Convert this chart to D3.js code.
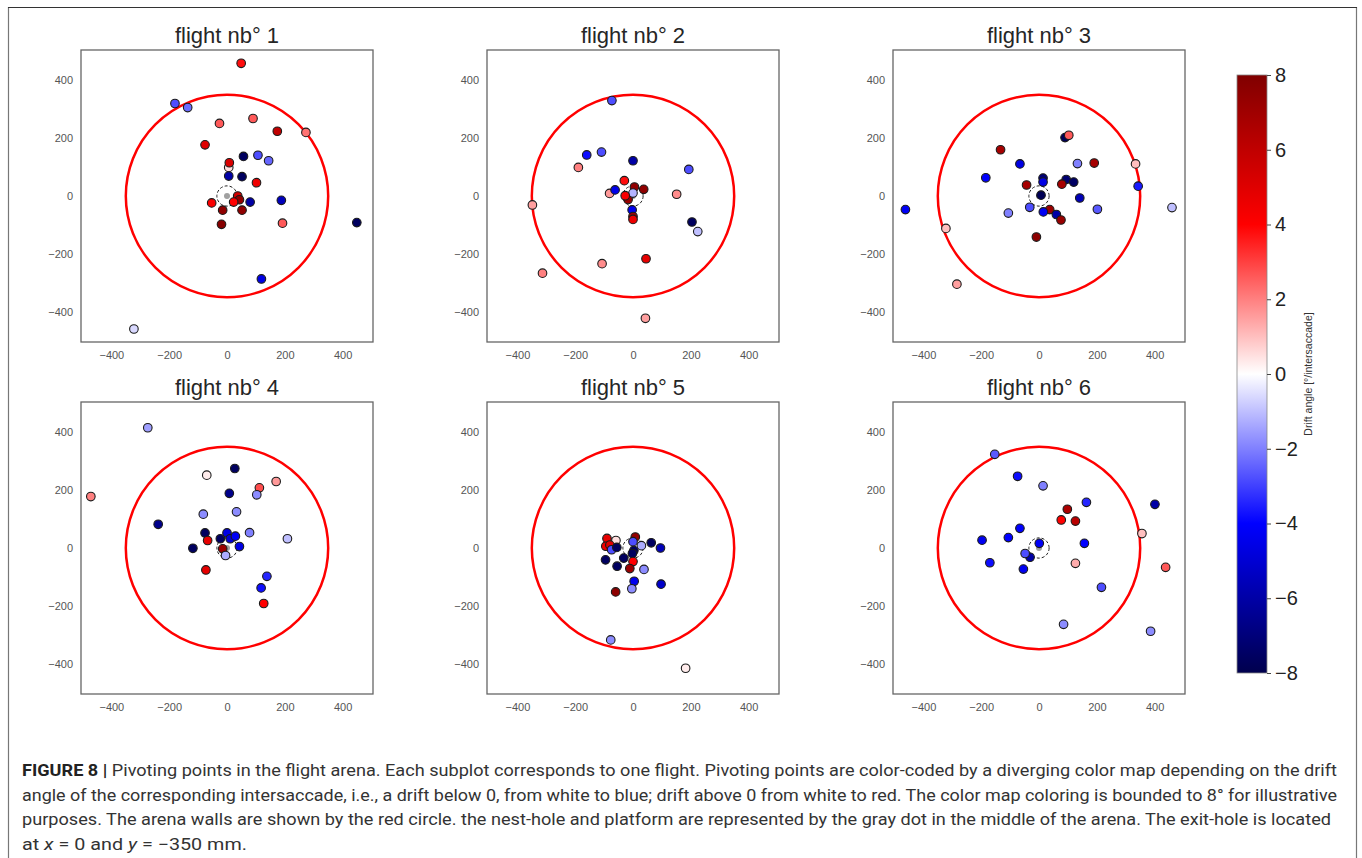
<!DOCTYPE html>
<html>
<head>
<meta charset="utf-8">
<script src="https://cdn.jsdelivr.net/npm/d3@7"></script>
<style>
  body { margin: 0; background: #fff; }
  svg { display: block; }
</style>
</head>
<body>
<div id="chart"></div>
<script>
// --- data (x mm, y mm, drift angle °/intersaccade) ---
const flightTitles = ['flight nb° 1', 'flight nb° 2', 'flight nb° 3', 'flight nb° 4', 'flight nb° 5', 'flight nb° 6'];
const axisTicks = [-400, -200, 0, 200, 400];
const colorTicks = [-8, -6, -4, -2, 0, 2, 4, 6, 8];
const arenaRadius = 350;
const nestRadius = 35;

const flight1 = [
  [49, 459, 3.8], [-180, 320, -2.8], [-136, 306, -2.3], [-26, 251, 2.6], [90, 268, 2.6],
  [174, 224, 6.0], [273, 220, 2.2], [-76, 177, 5.0], [57, 137, -7.6], [107, 141, -2.8],
  [144, 122, -2.4], [6, 99, 0.5], [8, 115, 5.2], [6, 69, -6.0], [52, 67, -7.6],
  [102, 46, 4.5], [37, 0, 5.5], [43, -13, 7.4], [23, -21, 4.0], [-53, -24, 4.2],
  [80, -21, -6.0], [188, -15, -5.5], [-15, -49, 7.5], [52, -49, 7.5], [-19, -98, 7.8],
  [192, -94, 2.6], [449, -92, -7.6], [119, -287, -4.6], [-322, -460, -0.6]
];
const flight2 = [
  [-73, 330, -2.8], [-160, 142, -3.8], [-109, 152, -2.8], [-189, 99, 2.0], [0, 122, -6.0],
  [193, 92, -2.8], [-30, 53, 3.8], [-81, 9, 1.6], [-62, 21, -4.5], [5, 31, 7.5],
  [37, 23, 7.5], [-17, -12, 7.2], [0, 10, -1.2], [-27, 1, 4.2], [151, 6, 1.8],
  [-348, -31, 1.5], [-3, -48, -4.4], [0, -71, 7.2], [0, -81, 4.6], [204, -90, -7.6],
  [224, -123, -1.0], [45, -217, 4.8], [-107, -234, 1.8], [-313, -267, 2.0], [43, -423, 1.5]
];
const flight3 = [
  [90, 202, -7.8], [103, 210, 2.6], [-133, 160, 6.8], [-66, 111, -4.6], [133, 112, -2.0],
  [191, 114, 6.8], [334, 111, 1.0], [-184, 63, -4.0], [14, 62, -7.2], [14, 48, -4.6],
  [-43, 38, 6.8], [94, 57, -7.2], [79, 41, 6.8], [120, 48, -7.5], [343, 34, -3.6],
  [7, 3, -7.8], [141, -7, -5.6], [-462, -47, -4.2], [-106, -59, -2.0], [-32, -39, -2.8],
  [37, -47, 7.2], [15, -55, -4.3], [60, -64, -6.0], [76, -83, 7.2], [202, -46, -2.6],
  [460, -40, -1.0], [-322, -112, 1.0], [-9, -142, 7.6], [-284, -305, 1.5]
];
const flight4 = [
  [-274, 416, -1.5], [-471, 178, 2.0], [27, 275, -7.6], [-70, 252, 0.3], [170, 230, 1.6],
  [112, 208, 2.8], [103, 184, -1.8], [8, 189, -6.6], [-82, 117, -1.8], [33, 125, -1.8],
  [-238, 82, -6.6], [-76, 52, -7.6], [78, 53, -2.0], [209, 32, -1.0], [-67, 26, 4.8],
  [-23, 32, -7.6], [0, 52, -4.6], [11, 32, -5.0], [29, 41, -4.2], [43, 5, -4.6],
  [-118, -1, -7.6], [-15, -3, 7.2], [-5, -26, -1.3], [-73, -76, 4.8], [138, -98, -3.4],
  [118, -138, -3.8], [127, -192, 4.0]
];
const flight5 = [
  [-90, 33, 4.8], [-59, 26, 0.5], [8, 38, 7.4], [0, 22, -2.8], [-94, 6, 4.5],
  [-80, 10, 5.0], [-74, -6, -2.8], [-56, 2, -7.6], [29, 8, -1.3], [63, 18, -7.6],
  [95, 0, -5.6], [3, -9, -7.6], [-2, -19, -7.6], [-95, -41, -7.6], [-32, -35, -7.6],
  [-55, -63, -7.6], [0, -47, 4.0], [-11, -71, 7.2], [38, -74, -1.8], [4, -115, -4.4],
  [-4, -141, -1.8], [97, -125, -5.2], [-60, -152, 7.6], [-77, -318, -1.8], [182, -416, 0.3]
];
const flight6 = [
  [-153, 324, -2.6], [-74, 248, -3.8], [14, 215, -2.0], [164, 158, -3.4], [401, 151, -6.0],
  [98, 134, 6.6], [77, 97, 4.0], [126, 93, 6.2], [-66, 68, -4.0], [-106, 36, -4.0],
  [-197, 27, -4.3], [356, 50, 1.0], [1, 16, -4.2], [157, 16, -4.0], [-31, -32, -6.0],
  [-48, -19, -2.8], [-170, -51, -3.8], [-54, -73, -4.3], [126, -53, 1.3], [438, -67, 2.6],
  [216, -136, -2.8], [85, -264, -1.8], [386, -288, -1.8]
];
const flights = [flight1, flight2, flight3, flight4, flight5, flight6];

const captionLines = [
  'Pivoting points in the flight arena. Each subplot corresponds to one flight. Pivoting points are color-coded by a diverging color map depending on the drift',
  'angle of the corresponding intersaccade, i.e., a drift below 0, from white to blue; drift above 0 from white to red. The color map coloring is bounded to 8° for illustrative',
  'purposes. The arena walls are shown by the red circle. the nest-hole and platform are represented by the gray dot in the middle of the arena. The exit-hole is located'
];

// --- layout ---
const width = 1362;
const height = 858;
const panelSize = 292;
const colX = [81, 487, 893];
const rowY = [50, 402];
const extent = 505;

const svg = d3.select('#chart').append('svg')
  .attr('width', width)
  .attr('height', height);

svg.append('rect').attr('width', width).attr('height', height).attr('fill', '#fff');

// figure frame
svg.append('path')
  .attr('d', `M8.5,${height} V7.5 H1356.5 V${height}`)
  .attr('fill', 'none')
  .attr('stroke', '#777')
  .attr('stroke-width', 1.2);
svg.append('line')
  .attr('x1', 8).attr('x2', 1357).attr('y1', 7.5).attr('y2', 7.5)
  .attr('stroke', '#333').attr('stroke-width', 1.2);

// seismic colormap
const color = d3.scaleLinear()
  .domain([-8, -4, 0, 4, 8])
  .range(['#00004d', '#0000ff', '#ffffff', '#ff0000', '#800000'])
  .clamp(true);

const tickFont = '"Liberation Sans", Arial, sans-serif';

flights.forEach((points, i) => {
  const g = svg.append('g')
    .attr('transform', `translate(${colX[i % 3]}, ${rowY[Math.floor(i / 3)]})`);

  const x = d3.scaleLinear().domain([-extent, extent]).range([0, panelSize]);
  const y = d3.scaleLinear().domain([-extent, extent]).range([panelSize, 0]);

  g.append('rect')
    .attr('width', panelSize)
    .attr('height', panelSize)
    .attr('fill', '#fff');

  const gx = g.append('g')
    .attr('transform', `translate(0, ${panelSize})`)
    .call(d3.axisBottom(x).tickValues(axisTicks).tickSize(0).tickPadding(9));
  const gy = g.append('g')
    .call(d3.axisLeft(y).tickValues(axisTicks).tickSize(0).tickPadding(8));
  [gx, gy].forEach(a => {
    a.select('.domain').remove();
    a.selectAll('text')
      .attr('font-family', tickFont)
      .attr('font-size', 11)
      .attr('fill', '#555');
  });

  // arena wall
  g.append('circle')
    .attr('cx', x(0)).attr('cy', y(0))
    .attr('r', x(arenaRadius) - x(0))
    .attr('fill', 'none')
    .attr('stroke', '#ff0000')
    .attr('stroke-width', 2.5);

  // nest-hole
  g.append('circle')
    .attr('cx', x(0)).attr('cy', y(0))
    .attr('r', x(nestRadius) - x(0))
    .attr('fill', 'none')
    .attr('stroke', '#222')
    .attr('stroke-width', 1)
    .attr('stroke-dasharray', '3,2');
  g.append('circle')
    .attr('cx', x(0)).attr('cy', y(0))
    .attr('r', 3)
    .attr('fill', '#a0a0a0');

  g.append('g').selectAll('circle')
    .data(points)
    .enter()
    .append('circle')
    .attr('cx', d => x(d[0]))
    .attr('cy', d => y(d[1]))
    .attr('r', 4.3)
    .attr('fill', d => color(d[2]))
    .attr('stroke', '#1a1a1a')
    .attr('stroke-width', 1.1);

  g.append('rect')
    .attr('width', panelSize)
    .attr('height', panelSize)
    .attr('fill', 'none')
    .attr('stroke', '#666')
    .attr('stroke-width', 1.3);

  g.append('text')
    .attr('x', panelSize / 2)
    .attr('y', -7)
    .attr('text-anchor', 'middle')
    .attr('font-family', tickFont)
    .attr('font-size', 22)
    .attr('fill', '#262626')
    .text(flightTitles[i]);
});

// colorbar
const cbX = 1237, cbY = 75, cbW = 30, cbH = 598;
const cbScale = d3.scaleLinear().domain([-8, 8]).range([cbY + cbH, cbY]);

const grad = svg.append('defs').append('linearGradient')
  .attr('id', 'seismic')
  .attr('x1', 0).attr('y1', 1).attr('x2', 0).attr('y2', 0);
grad.selectAll('stop')
  .data(d3.range(-8, 8.01, 0.5))
  .enter()
  .append('stop')
  .attr('offset', d => (d + 8) / 16)
  .attr('stop-color', d => color(d));

svg.append('rect')
  .attr('x', cbX).attr('y', cbY)
  .attr('width', cbW).attr('height', cbH)
  .attr('fill', 'url(#seismic)')
  .attr('stroke', '#888')
  .attr('stroke-width', 0.8);

const gcb = svg.append('g')
  .attr('transform', `translate(${cbX + cbW}, 0)`)
  .call(d3.axisRight(cbScale).tickValues(colorTicks).tickSize(4).tickPadding(4));
gcb.select('.domain').remove();
gcb.selectAll('line').attr('stroke', '#444');
gcb.selectAll('text')
  .attr('font-family', tickFont)
  .attr('font-size', 20)
  .attr('fill', '#222');

svg.append('text')
  .attr('transform', `translate(1312, ${cbY + cbH / 2}) rotate(-90)`)
  .attr('text-anchor', 'middle')
  .attr('font-family', tickFont)
  .attr('font-size', 10.5)
  .attr('fill', '#333')
  .text('Drift angle [°/intersaccade]');

// caption
const capFont = 'Roboto, "Liberation Sans", sans-serif';
const capX = 22;
const capBase = [776, 801, 825, 850];
const capRight = [1337, 1337, 1331];

captionLines.forEach((line, i) => {
  const t = svg.append('text')
    .attr('x', capX)
    .attr('y', capBase[i])
    .attr('font-family', capFont)
    .attr('font-size', 16.5)
    .attr('fill', '#333')
    .attr('textLength', capRight[i] - capX)
    .attr('lengthAdjust', 'spacingAndGlyphs');
  if (i === 0) {
    t.append('tspan').attr('font-weight', 'bold').attr('fill', '#222').text('FIGURE 8 | ');
  }
  t.append('tspan').text(line);
});

const last = svg.append('text')
  .attr('x', capX)
  .attr('y', capBase[3])
  .attr('font-family', capFont)
  .attr('font-size', 16.5)
  .attr('fill', '#333')
  .attr('textLength', 247 - capX)
  .attr('lengthAdjust', 'spacingAndGlyphs');
last.append('tspan').text('at ');
last.append('tspan').attr('font-style', 'italic').text('x');
last.append('tspan').text(' = 0 and ');
last.append('tspan').attr('font-style', 'italic').text('y');
last.append('tspan').text(' = −350 mm.');
</script>
</body>
</html>
